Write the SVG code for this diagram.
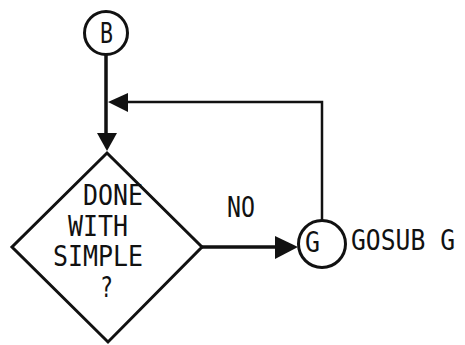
<svg xmlns="http://www.w3.org/2000/svg" width="465" height="345" viewBox="0 0 465 345">
<style>
.ln{fill:none;stroke:#111;stroke-width:3.5;stroke-linejoin:miter}
.thin{fill:none;stroke:#111;stroke-width:2.5}
.ah{fill:#111;stroke:none}
.sh{fill:#fff;stroke:#111;stroke-width:3}
text{font-family:"DejaVu Sans Mono","Liberation Mono",monospace;fill:#111;font-size:28px}
</style>
<rect width="465" height="345" fill="#fff"/>
<g id="connectors">
<line class="ln" x1="106" y1="55" x2="106" y2="137"/>
<polyline class="thin" points="322,221 322,102 118,102"/>
<polygon class="ah" points="108,102 128,93 128,112"/>
<polygon class="ah" points="97,133 117,133 107,151"/>
<line class="ln" x1="202" y1="247" x2="280" y2="247"/>
<polygon class="ah" points="275,236 275,259 298,247"/>
<text x="227" y="217" textLength="28" lengthAdjust="spacingAndGlyphs" font-size="29">NO</text>
</g>
<g id="node-B">
<circle class="sh" cx="106" cy="33" r="21.5"/>
<text x="100" y="43" textLength="13" lengthAdjust="spacingAndGlyphs" font-size="27">B</text>
</g>
<g id="node-decision">
<polygon class="sh" points="107,153 202,247 108,342 12,247"/>
<text x="83" y="205" textLength="60" lengthAdjust="spacingAndGlyphs">DONE</text>
<text x="68" y="236" textLength="60" lengthAdjust="spacingAndGlyphs">WITH</text>
<text x="53" y="266" textLength="90" lengthAdjust="spacingAndGlyphs">SIMPLE</text>
<text x="100" y="297" textLength="13" lengthAdjust="spacingAndGlyphs" font-size="26">?</text>
</g>
<g id="node-G">
<circle class="sh" cx="322" cy="244" r="23.5"/>
<text x="305" y="252" textLength="15" lengthAdjust="spacingAndGlyphs" font-size="25">G</text>
<text x="351" y="250" textLength="104" lengthAdjust="spacingAndGlyphs" font-size="24.5">GOSUB G</text>
</g>
</svg>
